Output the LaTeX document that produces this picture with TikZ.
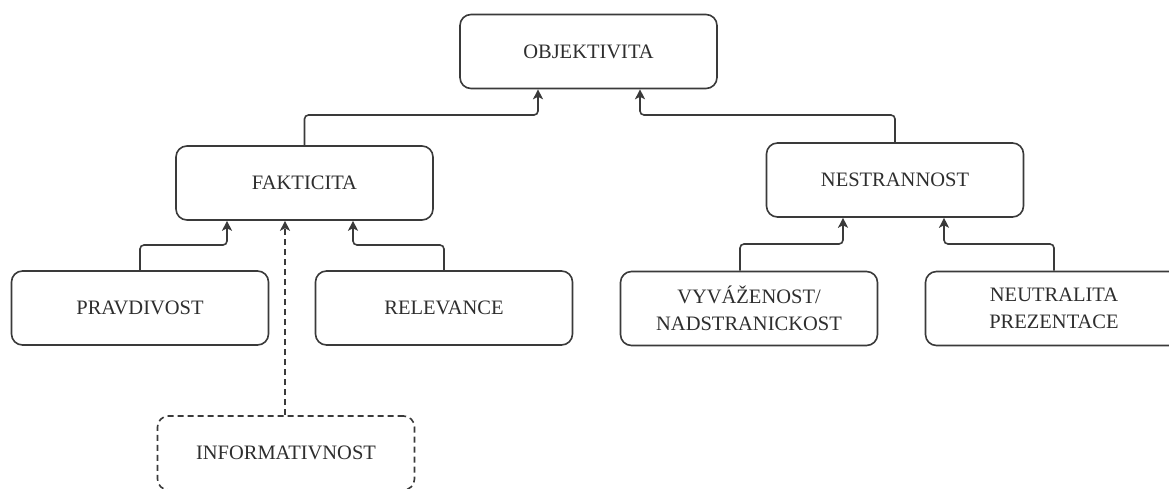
\documentclass[tikz,border=0pt]{standalone}
\usepackage{fontspec}
\setmainfont{Liberation Serif}
\usetikzlibrary{arrows.meta}
\definecolor{ink}{HTML}{2E2E2E}
\definecolor{edge}{HTML}{3A3A3A}
\tikzset{
  box/.style={draw=edge, line width=1.6pt, rounded corners=11pt,
    minimum width=257pt, minimum height=74pt, inner sep=0pt,
    align=center, text=ink, font=\fontsize{20.5}{27}\selectfont},
  optbox/.style={box, dash pattern=on 6pt off 4pt},
  conn/.style={draw=edge, line width=1.6pt, rounded corners=4pt,
    -{Stealth[length=10pt,width=10pt,inset=2.5pt]}},
  optconn/.style={conn, rounded corners=0pt, dash pattern=on 6pt off 4pt}
}
\begin{document}
\begin{tikzpicture}[x=1pt,y=-1pt]
  \clip (0,0) rectangle (1169,488);
  \fill[white] (0,0) rectangle (1169,488);

  % hierarchy of quality criteria
  \node[box] (obj) at (588.5,51.5) {OBJEKTIVITA};
  \node[box] (fak) at (304.5,183) {FAKTICITA};
  \node[box] (nes) at (895,180) {NESTRANNOST};
  \node[box] (pra) at (140,308) {PRAVDIVOST};
  \node[box] (rel) at (444,308) {RELEVANCE};
  \node[box] (vyv) at (749,308.5) {VYVÁŽENOST/\\NADSTRANICKOST};
  \node[box] (neu) at (1054,308.5) {NEUTRALITA\\PREZENTACE};
  \node[optbox] (inf) at (286,453) {INFORMATIVNOST};

  % second level to the top
  \draw[conn] (fak.north) -- (fak.north |- 0,115) -| ([xshift=-50.5pt]obj.south);
  \draw[conn] (nes.north) -- (nes.north |- 0,115) -| ([xshift=51.5pt]obj.south);

  % components of factuality
  \draw[conn] (pra.north) -- (pra.north |- 0,245) -| ([xshift=-77.5pt]fak.south);
  \draw[conn] (rel.north) -- (rel.north |- 0,245) -| ([xshift=48.5pt]fak.south);
  \draw[optconn] (inf.north -| 285,0) -- ([xshift=-19.5pt]fak.south);

  % components of impartiality
  \draw[conn] ([xshift=-9pt]vyv.north) -- ([xshift=-9pt]vyv.north |- 0,244) -| ([xshift=-52pt]nes.south);
  \draw[conn] (neu.north) -- (neu.north |- 0,244) -| ([xshift=49pt]nes.south);
\end{tikzpicture}
\end{document}
